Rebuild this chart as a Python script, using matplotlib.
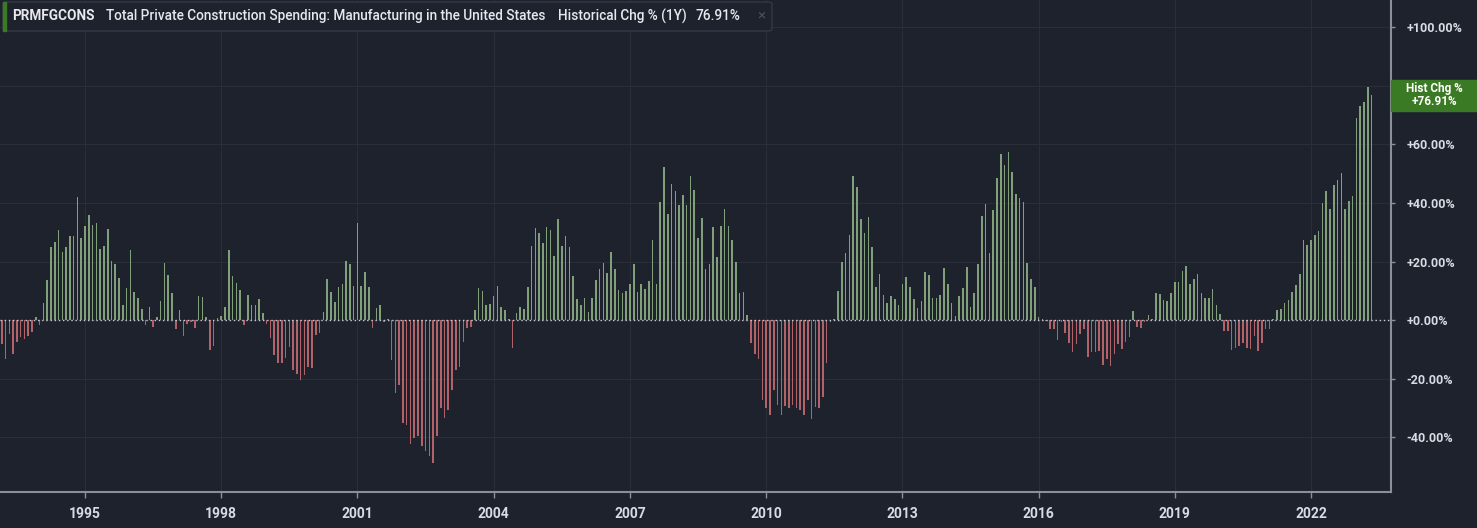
import matplotlib.pyplot as plt
from matplotlib.patches import Rectangle, FancyBboxPatch

# year-over-year % change, monthly, starting Mar 1993
chg_mar1993 = [-8.2, -13.3, -4.8, -11.6, -7.6, -5.9, -6.5, -5.3, -4.2, 0.9,
               -1.7, 5.7, 13.7, 24.8, 26.5, 30.7, 23.3, 24.8, 28.8, 28.8,
               42.2, 28.2, 32.2, 35.8, 32.5, 33.0, 24.2, 25.3, 31.1, 20.2,
               19.1, 14.3, 5.2, 11.1, 24.0, 9.7, 7.4, 3.8, -1.7, 4.4,
               -2.5, 1.1, 6.6, 19.5, 15.4, 9.4, -3.1, 3.5, -5.3, -1.4,
               -0.8, -2.8, 8.3, 7.7, 1.1, -10.2, -9.0, 0.6, 1.5, 4.3,
               23.8, 14.9, 12.6, 10.2]
chg_jul1998 = [-1.7, 8.5, 5.1, 5.1, 7.1, 2.5, -1.4, -6.3, -11.9, -14.8,
               -14.8, -13.1, -9.1, -17.1, -18.4, -20.5, -18.8, -15.9, -16.5, -5.1,
               -4.6, 2.6, 13.9, 9.7, 6.0, 11.4, 12.2, 20.1, 19.0, 11.7,
               33.0, 11.7, 16.3, 11.4, -2.8, 4.0, 5.1, -0.6, 0.3, -13.7,
               -25.0, -22.2, -35.3, -35.8, -42.3, -40.4, -39.6, -43.2, -44.9, -46.6,
               -48.9, -39.8, -30.1, -33.6, -30.7, -24.1, -17.1, -15.9, -7.4, -2.8,
               -2.3, 3.4]
chg_sep2003 = [11.0, 9.9, 5.1, 5.5, 8.2, 11.6, 4.3, 3.4, 0.3, -9.7,
               2.3, 4.6, 3.6, 11.4, 25.3, 31.3, 29.6, 26.4, 31.9, 30.7,
               21.8, 34.4, 25.3, 28.8, 25.0, 15.0, 7.2, 5.3, 7.4, 2.8,
               7.4, 13.7, 17.6, 19.6, 15.9, 23.3, 17.4, 10.2, 9.1, 10.0,
               12.2, 19.0, 9.7, 12.2, 10.5, 13.3, 27.3, 12.2, 40.4, 52.3,
               36.2, 46.4, 44.1, 39.2, 42.9, 39.2, 49.1, 44.6, 28.1, 35.0,
               17.6, 19.0, 31.9, 21.4]
chg_jan2009 = [32.2, 38.1, 32.1, 27.3, 19.7, 9.1, 9.7, 1.7, -8.0, -11.6,
               -13.2, -27.3, -30.1, -32.4, -23.9, -29.0, -32.4, -29.4, -30.1, -29.0,
               -30.1, -30.9, -32.4, -27.3, -33.9, -29.6, -30.1, -26.2, -14.8, -0.8,
               0.2, 9.9, 19.9, 23.0, 29.0, 49.1, 45.5, 34.4, 29.9, 35.3,
               24.8, 11.4, 15.6, 8.5, 5.9, 8.2, 7.1, 5.1, 12.3, 14.6,
               11.4, 7.1, 4.0, 6.5, 16.3, 15.4, 7.4, 7.4, 8.5, 17.9,
               12.3, 5.9, 1.4, 8.3]
chg_may2014 = [10.8, 18.0, 4.3, 9.2, 19.3, 35.6, 39.8, 22.9, 37.7, 48.7,
               56.9, 53.0, 57.6, 50.6, 43.0, 41.6, 40.5, 19.5, 14.0, 11.4,
               0.9, 0.3, -0.5, -3.1, -3.1, -6.8, -0.8, -4.6, -7.8, -11.0,
               -8.2, -4.8, -3.1, -12.5, -11.0, -11.0, -10.5, -15.4, -13.3, -15.6,
               -11.6, -8.2, -9.9, -7.6, -5.9, 3.0, -2.5, -2.9, -0.8, 1.8,
               0.3, 9.4, 8.9, 6.8, 6.4, 9.2, 12.9, 12.9, 16.8, 18.5,
               12.3, 14.0, 15.7]
chg_aug2019 = [9.3, 7.6, 7.6, 10.7, 5.3, 2.2, -3.8, -3.8, -10.2, -9.4,
               -8.9, -7.7, -9.4, -9.8, -5.5, -10.6, -7.7, -3.2, -3.2, 0.3,
               3.4, 3.9, 5.7, 6.8, 9.7, 11.9, 15.8, 27.5, 25.6, 27.5,
               29.2, 30.4, 40.0, 44.0, 38.1, 46.3, 47.8, 50.1, 38.1, 40.6,
               42.3, 69.1, 73.0, 74.4, 79.5, 76.91]

year_ticks = [1995, 1998, 2001, 2004, 2007, 2010, 2013, 2016, 2019, 2022]
pct_ticks = [-40, -20, 0, 20, 40, 60, 80, 100]

values = chg_mar1993 + chg_jul1998 + chg_sep2003 + chg_jan2009 + chg_may2014 + chg_aug2019
x = [1993 + (2 + i) / 12 for i in range(len(values))]
last = values[-1]

bg = '#1e222d'
grid_c = '#2a2e39'
axis_c = '#8c8f98'
text_c = '#d8dbe2'
green_bar = '#819f79'
red_bar = '#b2636a'
badge = '#3b7a24'

plt.rcParams['font.family'] = ['Roboto', 'DejaVu Sans']

fig = plt.figure(figsize=(14.77, 5.28), dpi=100, facecolor=bg)
ax = fig.add_axes([0, 1 - 492 / 528, 1391 / 1477, 492 / 528], facecolor=bg)

colors = [green_bar if v >= 0 else red_bar for v in values]
ax.bar(x, values, width=0.42 / 12, color=colors, linewidth=0)
ax.axhline(0, color='#c9ccd3', lw=1, ls=(0, (1, 2)), zorder=3)

ax.set_xlim(1993.128, 2023.76)
ax.set_ylim(-58.8, 109.4)

ax.set_xticks(year_ticks)
ax.set_xticklabels([str(y) for y in year_ticks])
ax.set_yticks(pct_ticks)
ax.set_yticklabels(['' if p == 80 else ('+' if p >= 0 else '') + f'{p:.2f}%' for p in pct_ticks])
ax.yaxis.tick_right()
ax.grid(True, color=grid_c, lw=0.8)
ax.set_axisbelow(True)

for s in ['left', 'top']:
    ax.spines[s].set_visible(False)
for s in ['right', 'bottom']:
    ax.spines[s].set_color(axis_c)
    ax.spines[s].set_linewidth(1.5)
ax.tick_params(axis='x', colors=axis_c, length=4, width=1, pad=7, labelcolor=text_c, labelsize=10)
ax.tick_params(axis='y', colors=axis_c, length=3, width=1, pad=8, labelcolor=text_c, labelsize=9)
for lab in ax.get_xticklabels() + ax.get_yticklabels():
    lab.set_fontweight('bold')

# last value badge on the price scale
ax.add_patch(Rectangle((1.0, last - 5.3), 86 / 1391, 10.6, transform=ax.get_yaxis_transform(),
                       color=badge, clip_on=False, zorder=5))
ax.text(1.0 + 43 / 1391, last, f'Hist Chg %\n+{last:.2f}%', transform=ax.get_yaxis_transform(),
        ha='center', va='center', color='white', fontsize=8.5, fontweight='bold',
        linespacing=0.95, zorder=6)

# legend / title box
fig.patches.append(FancyBboxPatch((3 / 1477, 1 - 31 / 528), 769 / 1477, 29 / 528,
                                  boxstyle='round,pad=0,rounding_size=0.003', transform=fig.transFigure,
                                  facecolor=bg, edgecolor='#343844', lw=1, zorder=5))
fig.patches.append(Rectangle((3 / 1477, 1 - 31 / 528), 3 / 1477, 29 / 528,
                             transform=fig.transFigure, color=badge, zorder=6))
ty = 1 - 16 / 528
fig.text(12 / 1477, ty, 'PRMFGCONS', color='#e6e8ee', fontsize=9.8, fontweight='bold', va='center', zorder=7)
fig.text(106 / 1477, ty, 'Total Private Construction Spending: Manufacturing in the United States',
         color='#e6e8ee', fontsize=9.8, fontweight='medium', va='center', zorder=7)
fig.text(558 / 1477, ty, 'Historical Chg % (1Y)', color='#e6e8ee', fontsize=9.8,
         fontweight='medium', va='center', zorder=7)
fig.text(695 / 1477, ty, f'{last:.2f}%', color='#e6e8ee', fontsize=9.8, fontweight='medium',
         va='center', zorder=7)
fig.text(757 / 1477, ty, '×', color='#4a4f5c', fontsize=11, va='center', zorder=7)

fig.savefig('out.png', dpi=100, facecolor=bg)
